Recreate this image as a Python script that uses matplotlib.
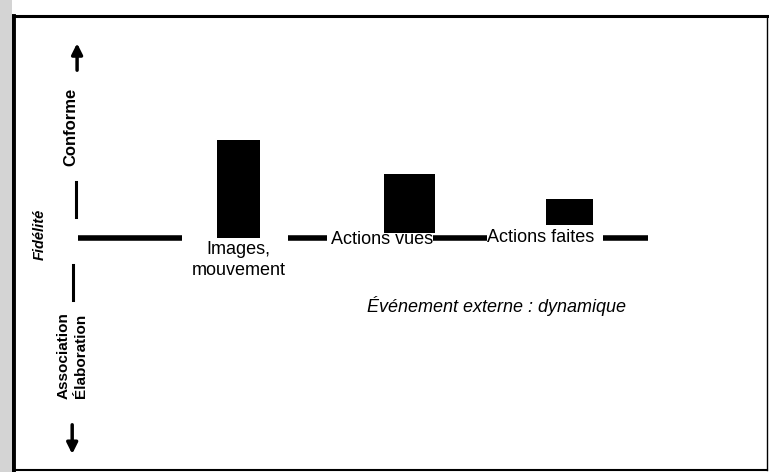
import matplotlib.pyplot as plt
from matplotlib.patches import Rectangle

plt.rcParams['font.family'] = ['Liberation Sans', 'DejaVu Sans']

# Données : trois modalités de fidélité (hauteur des barres)
categories = ['Images,\nmouvement', 'Actions vues', 'Actions faites']
hauteurs = [3.92, 2.36, 1.04]
bases = [0.0, 0.2, 0.52]
positions = [29.9, 52.6, 73.8]
largeurs = [5.7, 6.8, 6.2]

# Segments de la ligne de base (début, fin)
segments = [(8.6, 22.4), (36.5, 41.6), (55.7, 62.9), (78.2, 84.2)]

fig = plt.figure(figsize=(7.69, 4.72), dpi=100)
fig.patch.set_facecolor('white')

# bande grise du scan à gauche
fig.patches.append(Rectangle((0, 0), 12 / 769, 1, transform=fig.transFigure,
                             facecolor='#d4d4d4', edgecolor='none', zorder=0))

ax = fig.add_axes([13 / 769, 2 / 472, 754 / 769, 454 / 472])
ax.set_xlim(0, 100)
ax.set_ylim(-9.28, 8.88)
ax.set_xticks([])
ax.set_yticks([])
ax.spines['left'].set_linewidth(3.5)
ax.spines['top'].set_linewidth(2.2)
ax.spines['right'].set_linewidth(1.0)
ax.spines['bottom'].set_linewidth(1.5)

# Barres
ax.bar(positions, hauteurs, width=largeurs, bottom=bases, color='black')

# Ligne de base
for x0, x1 in segments:
    ax.plot([x0, x1], [0, 0], color='black', lw=4, solid_capstyle='butt')

# Étiquettes des modalités
ax.text(positions[0], -0.1, categories[0], ha='center', va='top', fontsize=13,
        linespacing=1.35)
ax.text(48.9, -0.08, categories[1], ha='center', va='center', fontsize=13)
ax.text(70.0, 0.0, categories[2], ha='center', va='center', fontsize=13)

ax.text(64.1, -2.72, 'Événement externe : dynamique', ha='center', va='center',
        fontsize=13, style='italic')

# Axe vertical : Fidélité
ax.annotate('', xy=(8.5, 7.9), xytext=(8.5, 6.6),
            arrowprops=dict(arrowstyle='-|>', color='black', lw=2.5,
                            mutation_scale=16))
ax.annotate('', xy=(7.85, -8.75), xytext=(7.85, -7.36),
            arrowprops=dict(arrowstyle='-|>', color='black', lw=2.5,
                            mutation_scale=16))
ax.plot([8.35, 8.35], [2.24, 0.84], color='black', lw=2.2)
ax.plot([7.96, 7.96], [-1.08, -2.48], color='black', lw=2.2)

ax.text(7.7, 4.44, 'Conforme', rotation=90, ha='center', va='center',
        fontsize=12, fontweight='bold')
ax.text(7.89, -4.72, 'Association\nÉlaboration', rotation=90, ha='center',
        va='center', fontsize=11, fontweight='bold', linespacing=1.3)
ax.text(3.6, 0.16, 'Fidélité', rotation=90, ha='center', va='center',
        fontsize=10.5, fontweight='bold', style='italic')

fig.savefig('out.png', dpi=100)
